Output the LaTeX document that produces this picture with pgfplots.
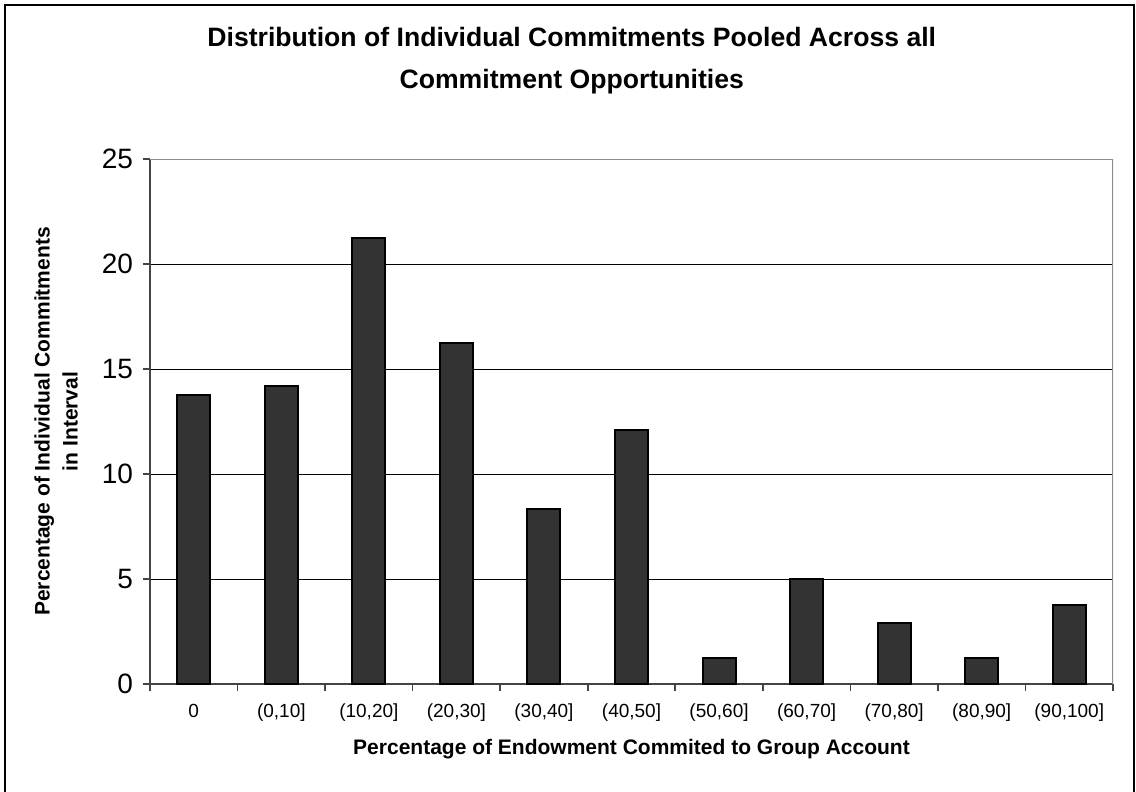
\documentclass[border=0pt]{standalone}
\usepackage{pgfplots}
\pgfplotsset{compat=1.18}
\usepackage{fontspec}
\setmainfont{Liberation Sans}

\definecolor{barfill}{HTML}{333333}
\definecolor{boxgray}{HTML}{8C8C8C}
\definecolor{axisdark}{HTML}{444444}

\begin{document}
\begin{tikzpicture}
\useasboundingbox (0,0) rectangle (568pt,-396pt);
% chart frame (open at the bottom)
\draw[line width=1pt, black] (2.5pt,-396pt) -- (2.5pt,-2.5pt) -- (567pt,-2.5pt) -- (567pt,-396pt);

\begin{axis}[
  at={(75pt,-342pt)}, anchor=south west,
  width=481.5pt, height=262.5pt, scale only axis,
  xmin=-0.5, xmax=10.5, ymin=0, ymax=25,
  axis lines=left,
  axis line style={-, draw=axisdark, line width=0.8pt},
  ytick={0,5,10,15,20,25},
  ymajorgrids,
  grid style={black, line width=0.5pt},
  xtick={-0.5,0.5,1.5,2.5,3.5,4.5,5.5,6.5,7.5,8.5,9.5,10.5},
  x tick label as interval,
  xticklabels={0,{(0,10]},{(10,20]},{(20,30]},{(30,40]},{(40,50]},{(50,60]},{(60,70]},{(70,80]},{(80,90]},{(90,100]}},
  tick align=outside,
  major tick length=3.5pt,
  tick style={draw=axisdark, line width=0.8pt},
  /pgf/number format/assume math mode=true,
  xticklabel style={font=\fontsize{9.5}{11}\selectfont, yshift=-3pt},
  yticklabel style={font=\fontsize{14}{16}\selectfont, xshift=-1.5pt},
  xlabel={Percentage of Endowment Commited to Group Account},
  xlabel style={font=\bfseries\fontsize{10.5}{13}\selectfont, at={(axis description cs:0.5,-0.124)}, anchor=center},
  ylabel={Percentage of Individual Commitments\\in Interval},
  ylabel style={font=\bfseries\fontsize{10.5}{14}\selectfont, align=center, at={(axis description cs:-0.0976,0.5)}, anchor=center},
  title={Distribution of Individual Commitments Pooled Across all\\Commitment Opportunities},
  title style={font=\bfseries\fontsize{13.3}{21}\selectfont, align=center, at={(axis description cs:0.438,1.165)}, anchor=center},
  ybar, bar width=16.5pt,
]
\addplot[fill=barfill, draw=black, line width=1pt, bar shift=0pt] coordinates {
  (0,13.75) (1,14.17) (2,21.25) (3,16.25) (4,8.33) (5,12.08)
  (6,1.25) (7,5.00) (8,2.92) (9,1.25) (10,3.75)
};
% grey top and right border of the plot area
\draw[boxgray, line width=1.3pt] (rel axis cs:0,1) -- (rel axis cs:1,1) -- (rel axis cs:1,0);
\end{axis}
\end{tikzpicture}
\end{document}
